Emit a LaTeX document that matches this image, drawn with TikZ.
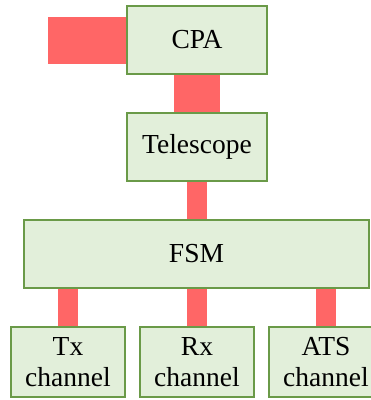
\documentclass[tikz,border=0pt]{standalone}
\usepackage{fontspec}
\setmainfont{Liberation Serif}
\definecolor{boxfill}{HTML}{E2EFDA}
\definecolor{boxline}{HTML}{6A9A48}
\definecolor{linkred}{HTML}{FF6666}
\begin{document}
\begin{tikzpicture}[x=1pt,y=-1pt,
  block/.style={draw=boxline, fill=boxfill, line width=1.2pt, inner sep=0pt,
    align=center, font=\fontsize{27.5}{31.5}\selectfont},
  link/.style={draw=linkred, line cap=butt}]
\useasboundingbox (0,0) rectangle (371,400);
\clip (0,0) rectangle (371,400);
% blocks
\node[block, minimum width=140, minimum height=68] (cpa) at (197,40) {CPA};
\node[block, minimum width=140, minimum height=68] (tel) at (197,147) {Telescope};
\node[block, minimum width=345, minimum height=68] (fsm) at (196.5,254) {FSM};
\node[block, minimum width=114, minimum height=70] (tx) at (68,362) {Tx\\channel};
\node[block, minimum width=114, minimum height=70] (rx) at (197,362) {Rx\\channel};
\node[block, minimum width=114, minimum height=70] (ats) at (326,362) {ATS\\channel};
\coordinate (feed) at (48,40.5);
% links
\draw[link, line width=47] (feed) -- (feed -| cpa.west);
\draw[link, line width=46] (cpa.south) -- (tel.north);
\draw[link, line width=20] (tel.south) -- (tel.south |- fsm.north);
\draw[link, line width=20] (tx.north) -- (tx.north |- fsm.south);
\draw[link, line width=20] (rx.north) -- (rx.north |- fsm.south);
\draw[link, line width=20] (ats.north) -- (ats.north |- fsm.south);
\end{tikzpicture}
\end{document}
